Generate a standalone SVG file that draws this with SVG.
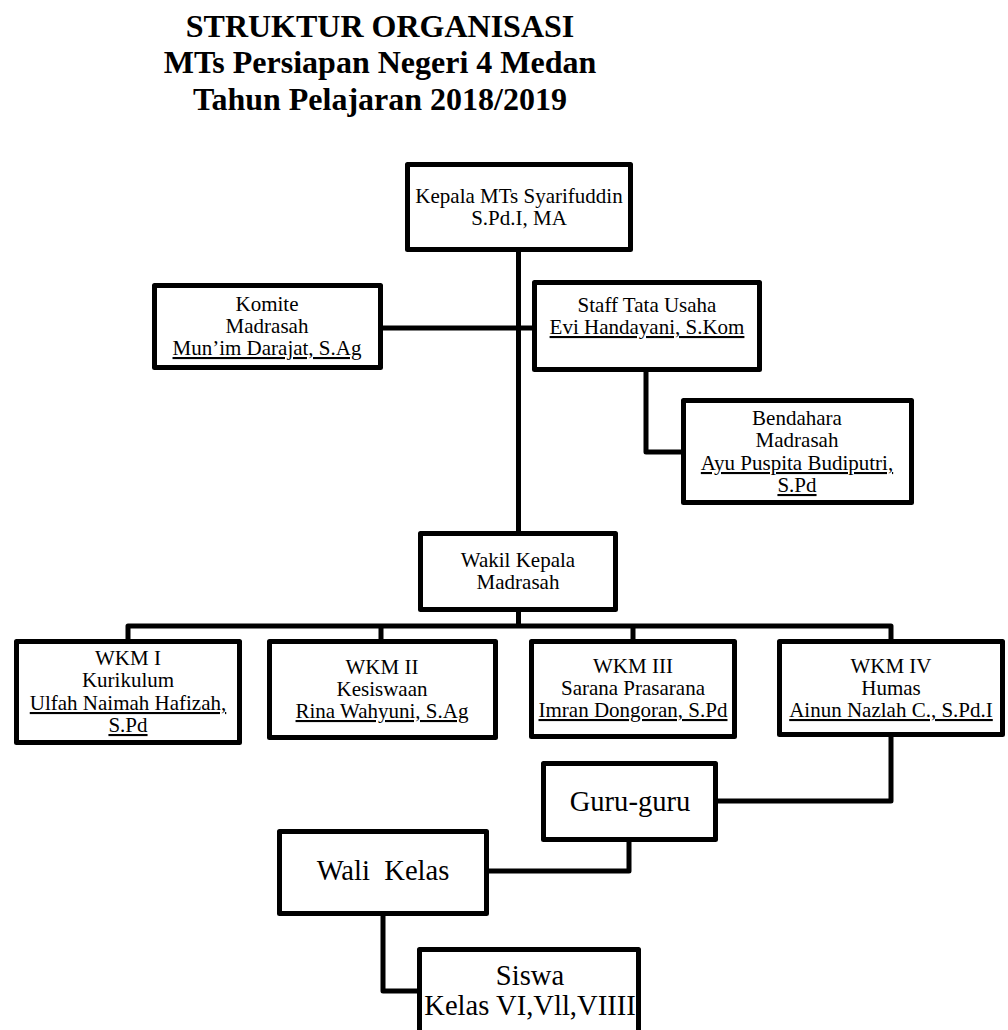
<svg xmlns="http://www.w3.org/2000/svg" width="1008" height="1030" viewBox="0 0 1008 1030">
<style>
.box{fill:#fff;stroke:#000;stroke-width:5;stroke-linejoin:round}
.con{fill:none;stroke:#000;stroke-width:5;stroke-linejoin:round}
text{font-family:"Liberation Serif","Times New Roman",serif;fill:#000;text-anchor:middle}
.t{font-size:32px;font-weight:bold}
.s{font-size:21px}
.u{text-decoration:underline}
.l{font-size:28.6px;white-space:pre}
</style>
<rect width="1008" height="1030" fill="#fff"/>
<g id="title">
<text class="t" x="380" y="37">STRUKTUR ORGANISASI</text>
<text class="t" x="380" y="73">MTs Persiapan Negeri 4 Medan</text>
<text class="t" x="380" y="110">Tahun Pelajaran 2018/2019</text>
</g>
<g id="connectors">
<path class="con" d="M518.5 252 V533"/>
<path class="con" d="M383 328 H534"/>
<path class="con" d="M646 372 V452 H683"/>
<path class="con" d="M518.5 612 V626 M128 641 V626 H891 V641 M381 626 V641 M633 626 V641"/>
<path class="con" d="M891 737 V801 H718"/>
<path class="con" d="M629 842 V871 H489"/>
<path class="con" d="M383 916 V991 H419"/>
</g>
<g id="kepala">
<rect class="box" x="407.5" y="164.5" width="223" height="85"/>
<text class="s" x="519" y="203">Kepala MTs Syarifuddin</text>
<text class="s" x="519" y="225">S.Pd.I, MA</text>
</g>
<g id="komite">
<rect class="box" x="154.5" y="285.5" width="226" height="82"/>
<text class="s" x="267" y="311">Komite</text>
<text class="s" x="267" y="333">Madrasah</text>
<text class="s u" x="267" y="355">Mun’im Darajat, S.Ag</text>
</g>
<g id="staff">
<rect class="box" x="534.5" y="282.5" width="225" height="87"/>
<text class="s" x="647" y="312">Staff Tata Usaha</text>
<text class="s u" x="647" y="334">Evi Handayani, S.Kom</text>
</g>
<g id="bendahara">
<rect class="box" x="683.5" y="400.5" width="228" height="102"/>
<text class="s" x="797" y="425">Bendahara</text>
<text class="s" x="797" y="447">Madrasah</text>
<text class="s u" x="797" y="470">Ayu Puspita Budiputri,</text>
<text class="s u" x="797" y="492">S.Pd</text>
</g>
<g id="wakil">
<rect class="box" x="420.5" y="533.5" width="195" height="76"/>
<text class="s" x="518" y="567">Wakil Kepala</text>
<text class="s" x="518" y="589">Madrasah</text>
</g>
<g id="wkm1">
<rect class="box" x="16.5" y="641.5" width="223" height="101"/>
<text class="s" x="128" y="665">WKM I</text>
<text class="s" x="128" y="687">Kurikulum</text>
<text class="s u" x="128" y="710">Ulfah Naimah Hafizah,</text>
<text class="s u" x="128" y="732">S.Pd</text>
</g>
<g id="wkm2">
<rect class="box" x="269.5" y="641.5" width="226" height="96"/>
<text class="s" x="382" y="674">WKM II</text>
<text class="s" x="382" y="696">Kesiswaan</text>
<text class="s u" x="382" y="718">Rina Wahyuni, S.Ag</text>
</g>
<g id="wkm3">
<rect class="box" x="531.5" y="641.5" width="203" height="95"/>
<text class="s" x="633" y="673">WKM III</text>
<text class="s" x="633" y="695">Sarana Prasarana</text>
<text class="s u" x="633" y="717">Imran Dongoran, S.Pd</text>
</g>
<g id="wkm4">
<rect class="box" x="779.5" y="641.5" width="223" height="93"/>
<text class="s" x="891" y="673">WKM IV</text>
<text class="s" x="891" y="695">Humas</text>
<text class="s u" x="891" y="717">Ainun Nazlah C., S.Pd.I</text>
</g>
<g id="guru">
<rect class="box" x="543.5" y="763.5" width="172" height="76"/>
<text class="l" x="630" y="811">Guru-guru</text>
</g>
<g id="wali">
<rect class="box" x="279.5" y="831.5" width="207" height="82"/>
<text class="l" x="383" y="880">Wali  Kelas</text>
</g>
<g id="siswa">
<rect class="box" x="419.5" y="949.5" width="219" height="100"/>
<text class="l" x="530" y="985">Siswa</text>
<text class="l" x="530" y="1015">Kelas VI,Vll,VIIII</text>
</g>
</svg>
